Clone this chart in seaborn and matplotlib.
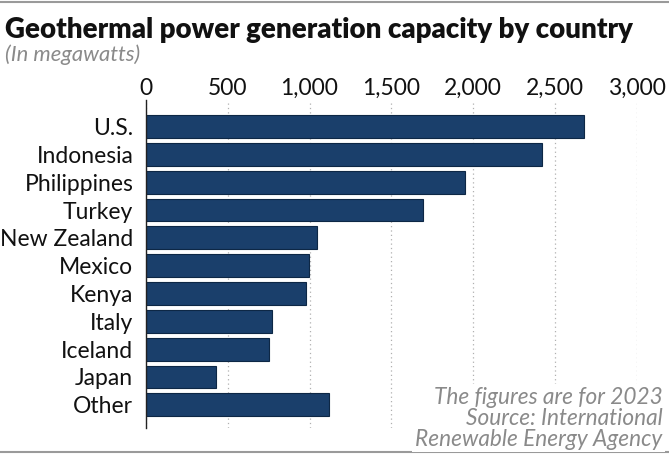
import matplotlib
matplotlib.use("Agg")
import matplotlib.pyplot as plt
import matplotlib.ticker as mticker
import pandas as pd
import seaborn as sns

countries = ["U.S.", "Indonesia", "Philippines", "Turkey", "New Zealand", "Mexico",
             "Kenya", "Italy", "Iceland", "Japan", "Other"]
capacity_mw = [2674, 2418, 1952, 1691, 1047, 999, 980, 768, 751, 427, 1120]
x_ticks = [0, 500, 1000, 1500, 2000, 2500, 3000]

BAR = "#1a3f6b"
GRAY = "#8a8a8a"

sns.set_theme(style="white")
plt.rcParams["font.family"] = ["Lato", "DejaVu Sans"]

df = pd.DataFrame({"country": countries, "mw": capacity_mw})

fig = plt.figure(figsize=(6.69, 4.55), dpi=100)
ax = fig.add_axes([0.218, 0.059, 0.734, 0.721])

sns.barplot(data=df, x="mw", y="country", color=BAR, width=0.82,
            edgecolor="#0d2745", linewidth=0.8, saturation=1, ax=ax, zorder=3)

ax.set_xlim(0, 3000)
ax.set_ylim(len(countries) - 1 + 0.84, -0.95)
ax.set_xticks(x_ticks)
ax.xaxis.set_major_formatter(mticker.FuncFormatter(lambda v, _: f"{v:,.0f}"))
ax.xaxis.tick_top()
ax.tick_params(axis="x", length=0, pad=1, labelsize=16.5, labelcolor="#111111")
ax.tick_params(axis="y", length=0, pad=9, labelsize=16.5, labelcolor="#111111")
ax.set_xlabel("")
ax.set_ylabel("")

ax.grid(axis="x", color="#b0b0b0", linestyle=(0, (1, 2.5)), linewidth=0.9, zorder=0)
ax.grid(axis="y", visible=False)
for s in ["top", "right", "bottom"]:
    ax.spines[s].set_visible(False)
ax.spines["left"].set_color("#222222")
ax.spines["left"].set_linewidth(1.0)
ax.spines["left"].set_zorder(4)

fig.text(0.008, 0.934, "Geothermal power generation capacity by country",
         fontsize=19.9, fontweight="heavy", color="#111111", ha="left", va="center")
fig.text(0.008, 0.879, "(In megawatts)", fontsize=15.8, style="italic",
         color=GRAY, ha="left", va="center")

fig.text(0.99, 0.081,
         "The figures are for 2023\nSource: International\nRenewable Energy Agency",
         fontsize=16.3, style="italic", color=GRAY,
         ha="right", va="center", linespacing=1.0,
         bbox=dict(facecolor="white", edgecolor="none", pad=2), zorder=5)

fig.add_artist(plt.Line2D([0, 1], [0.996, 0.996], color="#9a9a9a", linewidth=1.5,
                          transform=fig.transFigure))
fig.add_artist(plt.Line2D([0, 1], [0.006, 0.006], color="#9a9a9a", linewidth=1.5,
                          transform=fig.transFigure))

fig.savefig("out.png", dpi=100)
